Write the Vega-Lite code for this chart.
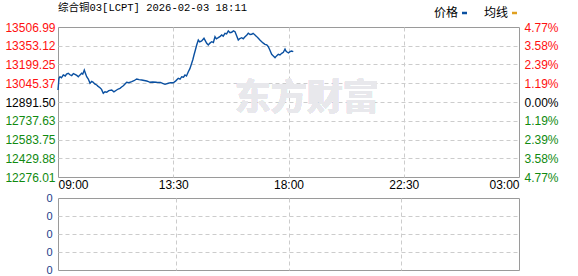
{
  "$schema": "https://vega.github.io/schema/vega-lite/v6.json",
  "padding": {"left": 4, "top": 2, "right": 0, "bottom": 0},
  "background": "white",
  "spacing": 0,
  "config": {
    "view": {"stroke": "#9a9a9a", "strokeWidth": 1},
    "font": "Liberation Sans",
    "axis": {"labelFont": "Liberation Sans", "labelFontSize": 12, "ticks": false, "domain": false, "title": null, "gridColor": "#cccccc", "gridDash": [4, 3]}
  },
  "datasets": {
    "price": [
      {"t": 0, "p": 12990.0}, {"t": 2.3, "p": 13086.0}, {"t": 4.7, "p": 13099.1}, {"t": 8, "p": 13090}, {"t": 12.4, "p": 13113.1},
      {"t": 17, "p": 13105}, {"t": 20, "p": 13120}, {"t": 24.1, "p": 13127.0}, {"t": 28, "p": 13115}, {"t": 32.1, "p": 13107.3},
      {"t": 36, "p": 13125}, {"t": 39.8, "p": 13118.8}, {"t": 44, "p": 13110}, {"t": 47.6, "p": 13099.1}, {"t": 51, "p": 13112},
      {"t": 55.5, "p": 13127.0}, {"t": 58, "p": 13120}, {"t": 61.6, "p": 13154.1}, {"t": 64, "p": 13130}, {"t": 67.2, "p": 13099.1},
      {"t": 71, "p": 13080}, {"t": 75.0, "p": 13045.0}, {"t": 79, "p": 13060}, {"t": 82.7, "p": 13053.2}, {"t": 86, "p": 13040},
      {"t": 90.7, "p": 13031.0}, {"t": 94, "p": 13020}, {"t": 98.4, "p": 13008.9}, {"t": 102, "p": 12995}, {"t": 106.1, "p": 12962.9},
      {"t": 110, "p": 12975}, {"t": 114.1, "p": 12971.1}, {"t": 119, "p": 12985}, {"t": 125.8, "p": 12990.0}, {"t": 131, "p": 12975},
      {"t": 137.5, "p": 12990.0}, {"t": 141, "p": 12998}, {"t": 145.2, "p": 13003.9}, {"t": 149, "p": 13015}, {"t": 153.0, "p": 13025.3},
      {"t": 157, "p": 13040}, {"t": 160.9, "p": 13053.2}, {"t": 166, "p": 13050}, {"t": 172.7, "p": 13058.1}, {"t": 178, "p": 13066},
      {"t": 184.4, "p": 13080.3}, {"t": 190, "p": 13075}, {"t": 196.1, "p": 13072.1}, {"t": 202, "p": 13068}, {"t": 207.8, "p": 13063.8},
      {"t": 212, "p": 13058}, {"t": 215.5, "p": 13053.2}, {"t": 222, "p": 13056}, {"t": 231.2, "p": 13053.2}, {"t": 240, "p": 13052},
      {"t": 245, "p": 13045}, {"t": 250.7, "p": 13036.8}, {"t": 258.4, "p": 13045.0}, {"t": 264, "p": 13050}, {"t": 270.1, "p": 13049.9},
      {"t": 276, "p": 13065}, {"t": 281.8, "p": 13086.0}, {"t": 286, "p": 13080}, {"t": 289.8, "p": 13099.1}, {"t": 294, "p": 13095},
      {"t": 297.5, "p": 13113.1}, {"t": 301, "p": 13105}, {"t": 305.3, "p": 13140.2}, {"t": 309, "p": 13165}, {"t": 313.2, "p": 13209.1},
      {"t": 316, "p": 13240}, {"t": 318.6, "p": 13277.2}, {"t": 322, "p": 13320}, {"t": 324.9, "p": 13359.3}, {"t": 328.7, "p": 13400.3},
      {"t": 332, "p": 13385}, {"t": 336.6, "p": 13392.1}, {"t": 342.0, "p": 13414.3}, {"t": 345, "p": 13395}, {"t": 348.4, "p": 13373.2},
      {"t": 352.1, "p": 13359.3}, {"t": 356, "p": 13375}, {"t": 360.1, "p": 13386.4}, {"t": 364, "p": 13380}, {"t": 367.8, "p": 13427.4},
      {"t": 371, "p": 13410}, {"t": 375.5, "p": 13419.2}, {"t": 380, "p": 13430}, {"t": 383.5, "p": 13441.3}, {"t": 387, "p": 13432},
      {"t": 391.2, "p": 13455.3}, {"t": 395, "p": 13450}, {"t": 399.0, "p": 13474.2}, {"t": 403, "p": 13460}, {"t": 406.9, "p": 13463.5},
      {"t": 411, "p": 13475}, {"t": 414.7, "p": 13468.4}, {"t": 418, "p": 13440}, {"t": 422.4, "p": 13400.3}, {"t": 426, "p": 13412},
      {"t": 430.4, "p": 13419.2}, {"t": 434, "p": 13410}, {"t": 438.1, "p": 13427.4}, {"t": 442, "p": 13440}, {"t": 445.8, "p": 13455.3},
      {"t": 450, "p": 13445}, {"t": 453.8, "p": 13447.1}, {"t": 457, "p": 13455}, {"t": 461.5, "p": 13441.3}, {"t": 465, "p": 13430},
      {"t": 469.3, "p": 13414.3}, {"t": 473, "p": 13400}, {"t": 477.2, "p": 13386.4}, {"t": 481, "p": 13375}, {"t": 484.9, "p": 13365.0},
      {"t": 489, "p": 13360}, {"t": 492.7, "p": 13345.3}, {"t": 496, "p": 13320}, {"t": 500.6, "p": 13283.0}, {"t": 504, "p": 13270},
      {"t": 508.4, "p": 13255.1}, {"t": 512, "p": 13270}, {"t": 516.1, "p": 13283.0}, {"t": 520, "p": 13278}, {"t": 524.1, "p": 13291.2},
      {"t": 528, "p": 13300}, {"t": 531.8, "p": 13326.5}, {"t": 534, "p": 13310}, {"t": 536.5, "p": 13301.8}, {"t": 540, "p": 13295},
      {"t": 543.5, "p": 13304.3}, {"t": 547, "p": 13310}, {"t": 551.2, "p": 13304.3}
    ],
    "volume": [{"t": 0, "v": 0}, {"t": 551.2, "v": 0}]
  },
  "vconcat": [
    {
      "width": 461,
      "height": 150,
      "data": {"name": "price"},
      "title": {"text": "综合铜03[LCPT] 2026-02-03 18:11", "anchor": "start", "frame": "group", "font": "Liberation Mono, Noto Sans CJK SC", "fontSize": 10.5, "fontWeight": "normal", "color": "#000000", "offset": 8},
      "layer": [
        {
          "mark": {"type": "text", "font": "Noto Sans CJK SC", "fontSize": 36, "fontWeight": "bold", "color": "#e8e8ec", "dy": -3},
          "encoding": {
            "x": {"datum": 583, "type": "quantitative", "scale": {"domain": [0, 1080], "nice": false, "zero": false}},
            "y": {"datum": 12891.5, "type": "quantitative", "scale": {"domain": [12276.01, 13506.99], "nice": false, "zero": false},
              "axis": {"orient": "right", "values": [12276.01, 12429.88, 12583.75, 12737.63, 12891.50, 13045.37, 13199.25, 13353.12, 13506.99],
                "labelExpr": "format(abs(datum.value - 12891.5) / 12891.5 * 100, '.2f') + '%'",
                "labelColor": {"expr": "datum.value > 12892 ? '#ff1010' : datum.value < 12891 ? '#108a10' : '#000000'"},
                "grid": false, "labelPadding": 5}},
            "text": {"value": "东方财富"}
          }
        },
        {
          "mark": {"type": "line", "strokeWidth": 1.4},
          "encoding": {
            "x": {"field": "t", "type": "quantitative", "scale": {"domain": [0, 1080], "nice": false, "zero": false},
              "axis": {"values": [0, 270, 540, 810, 1080], "labelFlush": true, "labelPadding": 2,
                "labelExpr": "datum.value == 0 ? '09:00' : datum.value == 270 ? '13:30' : datum.value == 540 ? '18:00' : datum.value == 810 ? '22:30' : '03:00'",
                "grid": true, "gridOpacity": {"expr": "datum.value == 0 || datum.value == 1080 ? 0 : 1"}}},
            "y": {"field": "p", "type": "quantitative", "scale": {"domain": [12276.01, 13506.99], "nice": false, "zero": false},
              "axis": {"orient": "left", "values": [12276.01, 12429.88, 12583.75, 12737.63, 12891.50, 13045.37, 13199.25, 13353.12, 13506.99],
                "format": ".2f", "labelPadding": 3,
                "labelColor": {"expr": "datum.value > 12892 ? '#ff1010' : datum.value < 12891 ? '#108a10' : '#000000'"},
                "grid": true, "gridOpacity": {"expr": "datum.value > 13506 || datum.value < 12277 ? 0 : 1"}}},
            "color": {"datum": "价格", "type": "nominal", "scale": {"domain": ["价格", "均线"], "range": ["#0a50a1", "#e0a020"]},
              "legend": {"orient": "none", "legendX": 364, "legendY": -20, "direction": "horizontal", "title": null,
                "symbolType": "M34,0H39", "symbolSize": 4, "symbolStrokeWidth": 2.5, "labelFont": "Noto Sans CJK SC", "labelFontSize": 12,
                "labelOffset": 0, "columnPadding": -7, "labelColor": "#000000"}}
          }
        }
      ],
      "resolve": {"axis": {"y": "independent"}}
    },
    {
      "width": 461,
      "height": 72,
      "data": {"name": "volume"},
      "mark": {"type": "bar", "color": "#0a50a1"},
      "encoding": {
        "x": {"field": "t", "type": "quantitative", "scale": {"domain": [0, 1080], "nice": false, "zero": false},
          "axis": {"values": [0, 270, 540, 810, 1080], "labels": false, "grid": true, "gridOpacity": {"expr": "datum.value == 0 || datum.value == 1080 ? 0 : 1"}}},
        "y": {"field": "v", "type": "quantitative", "scale": {"domain": [0, 4], "nice": false, "zero": false},
          "axis": {"values": [0, 1, 2, 3, 4], "labelExpr": "'0'", "labelColor": "#1a3a8a", "labelFontSize": 11, "labelPadding": 6, "grid": true,
            "gridOpacity": {"expr": "datum.value == 0 || datum.value == 4 ? 0 : 1"}}}
      }
    }
  ]
}
